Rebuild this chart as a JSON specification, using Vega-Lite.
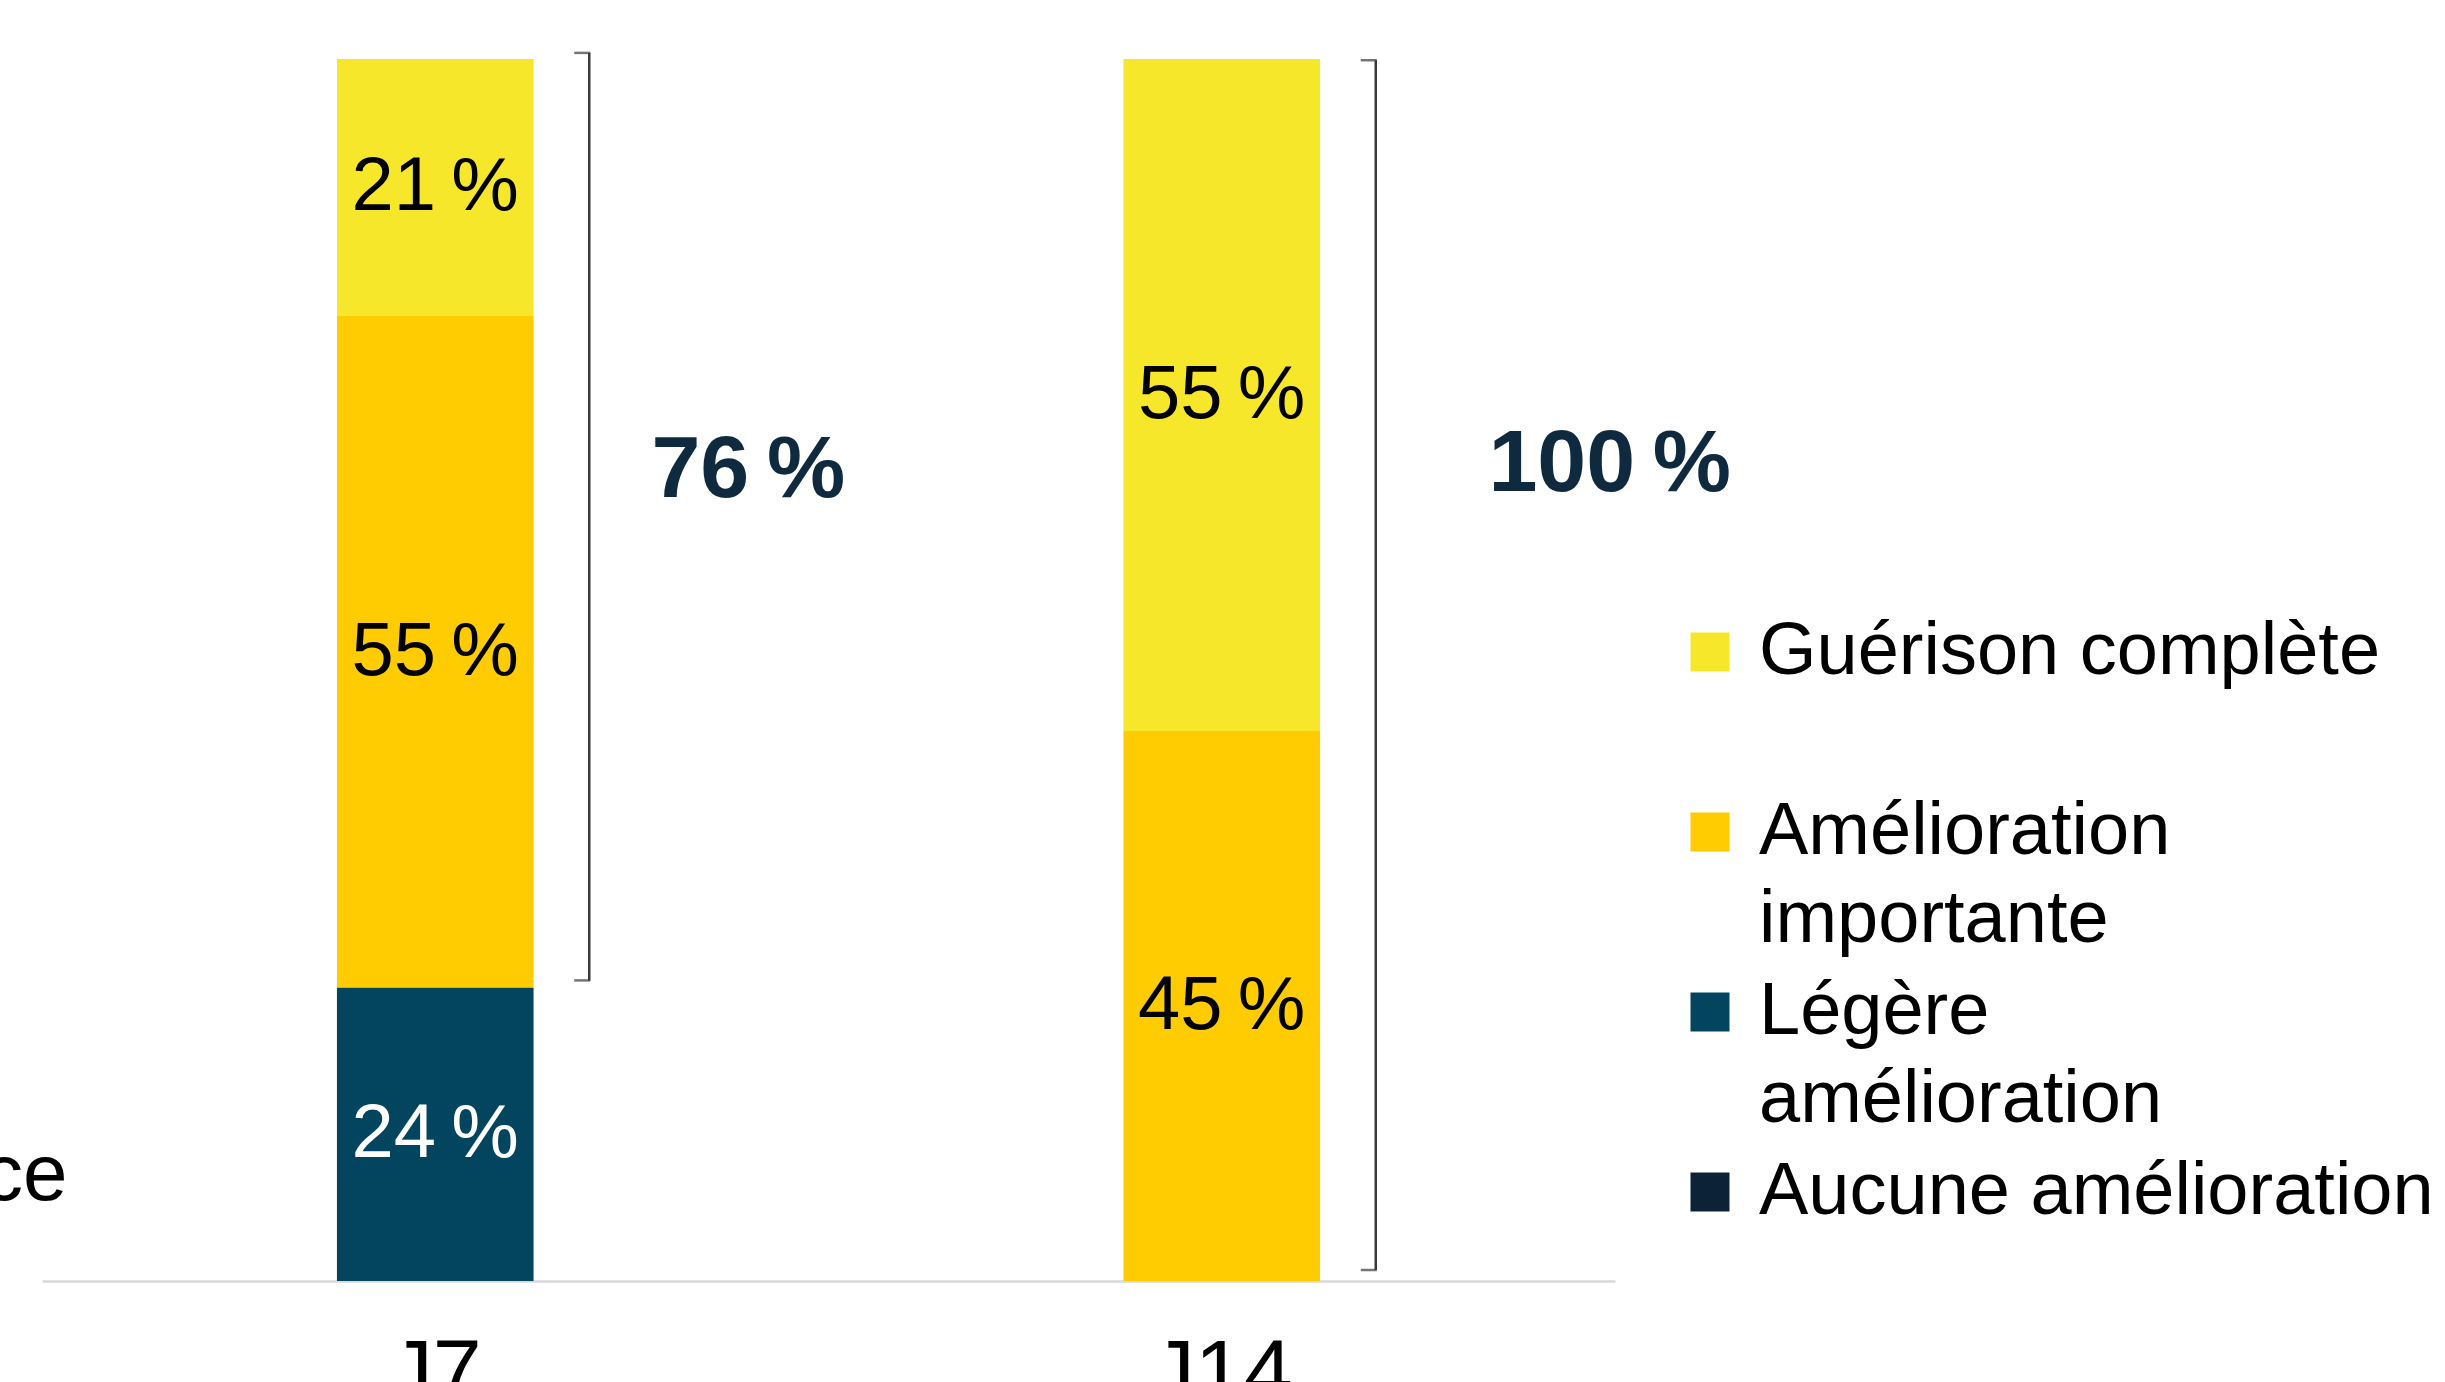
{
  "$schema": "https://vega.github.io/schema/vega-lite/v6.json",
  "width": 1573,
  "height": 1222,
  "autosize": {"type": "none"},
  "padding": {"left": 42, "top": 59, "right": 830, "bottom": 101},
  "background": "white",
  "config": {
    "view": {"stroke": null},
    "font": "Liberation Sans",
    "style": {"guide-label": {"lineHeight": 88}},
    "axisX": {
      "domainColor": "#D9D9D9",
      "domainWidth": 2.5,
      "ticks": false,
      "tickSize": 0,
      "grid": false,
      "labelFont": "Liberation Sans",
      "labelFontSize": 88,
      "labelColor": "#000000",
      "labelPadding": 49,
      "labelAngle": 0
    },
    "axisY": {
      "domain": false,
      "ticks": false,
      "labels": false,
      "grid": false,
      "titleAngle": 0,
      "titleAlign": "right",
      "titleBaseline": "middle",
      "titleX": 25,
      "titleY": 1116,
      "titleFont": "Liberation Sans",
      "titleFontSize": 80,
      "titleFontWeight": "normal",
      "titleColor": "#000000"
    }
  },
  "datasets": {
    "repartition": [
      {"jour": "J7", "categorie": "Guérison complète", "pct": 21, "rang": 1, "etiquette": "21\u2009%"},
      {"jour": "J7", "categorie": "Amélioration importante", "pct": 55, "rang": 2, "etiquette": "55\u2009%"},
      {"jour": "J7", "categorie": "Légère amélioration", "pct": 24, "rang": 3, "etiquette": "24\u2009%"},
      {"jour": "J14", "categorie": "Guérison complète", "pct": 55, "rang": 1, "etiquette": "55\u2009%"},
      {"jour": "J14", "categorie": "Amélioration importante", "pct": 45, "rang": 2, "etiquette": "45\u2009%"}
    ],
    "accolades": [
      {"jour": "J7", "haut": 100.5, "bas": 24.6, "total": "76\u2009%", "niveau": 66.3},
      {"jour": "J14", "haut": 99.9, "bas": 0.9, "total": "100\u2009%", "niveau": 66.8}
    ]
  },
  "encoding": {
    "x": {
      "field": "jour",
      "type": "nominal",
      "sort": ["J7", "J14"],
      "title": null,
      "scale": {"domain": ["J7", "J14"], "paddingInner": 0.75, "paddingOuter": 0.375}
    }
  },
  "layer": [
    {
      "data": {"name": "repartition"},
      "mark": {"type": "bar"},
      "encoding": {
        "y": {"field": "pct", "type": "quantitative", "stack": "zero", "title": "ce", "scale": {"domain": [0, 100], "nice": false}},
        "color": {
          "field": "categorie",
          "type": "nominal",
          "scale": {
            "domain": ["Guérison complète", "Amélioration importante", "Légère amélioration", "Aucune amélioration"],
            "range": ["#F7E72A", "#FECC00", "#03445E", "#0B2237"]
          },
          "legend": {
            "orient": "none",
            "legendX": 1631,
            "legendY": 556,
            "title": null,
            "padding": 0,
            "symbolType": "square",
            "symbolSize": 1521,
            "symbolStrokeWidth": 0,
            "symbolOpacity": 1,
            "labelFont": "Liberation Sans",
            "labelFontSize": 74,
            "labelColor": "#000000",
            "labelOffset": 12,
            "labelLimit": 1200,
            "rowPadding": 18,
            "labelExpr": "datum.label == 'Guérison complète' ? ['Guérison complète', ''] : datum.label == 'Amélioration importante' ? ['Amélioration', 'importante'] : datum.label == 'Légère amélioration' ? ['Légère', 'amélioration'] : datum.label"
          }
        },
        "order": {"field": "rang", "sort": "descending"}
      }
    },
    {
      "data": {"name": "repartition"},
      "mark": {"type": "text", "font": "Liberation Sans", "fontSize": 76},
      "encoding": {
        "y": {"field": "pct", "type": "quantitative", "stack": "zero", "bandPosition": 0.5, "title": "ce"},
        "detail": {"field": "categorie"},
        "order": {"field": "rang", "sort": "descending"},
        "text": {"field": "etiquette"},
        "color": {"condition": {"test": "datum.categorie === 'Légère amélioration'", "value": "#FFFFFF"}, "value": "#000000"}
      }
    },
    {
      "data": {"name": "accolades"},
      "mark": {"type": "rule", "xOffset": 154, "color": "#3A3A3A", "strokeWidth": 2.5},
      "encoding": {
        "y": {"field": "haut", "type": "quantitative", "title": "ce"},
        "y2": {"field": "bas"}
      }
    },
    {
      "data": {"name": "accolades"},
      "mark": {"type": "tick", "xOffset": 147, "size": 16, "thickness": 2.5, "color": "#3A3A3A"},
      "encoding": {
        "y": {"field": "haut", "type": "quantitative", "title": "ce"}
      }
    },
    {
      "data": {"name": "accolades"},
      "mark": {"type": "tick", "xOffset": 147, "size": 16, "thickness": 2.5, "color": "#3A3A3A"},
      "encoding": {
        "y": {"field": "bas", "type": "quantitative", "title": "ce"}
      }
    },
    {
      "data": {"name": "accolades"},
      "transform": [{"filter": "datum.jour == 'J7'"}],
      "mark": {"type": "text", "xOffset": 313, "font": "Liberation Sans", "fontSize": 88, "fontWeight": "bold", "color": "#0F2A3F"},
      "encoding": {
        "y": {"field": "niveau", "type": "quantitative", "title": "ce"},
        "text": {"field": "total"}
      }
    },
    {
      "data": {"name": "accolades"},
      "transform": [{"filter": "datum.jour == 'J14'"}],
      "mark": {"type": "text", "xOffset": 388, "font": "Liberation Sans", "fontSize": 88, "fontWeight": "bold", "color": "#0F2A3F"},
      "encoding": {
        "y": {"field": "niveau", "type": "quantitative", "title": "ce"},
        "text": {"field": "total"}
      }
    }
  ]
}
